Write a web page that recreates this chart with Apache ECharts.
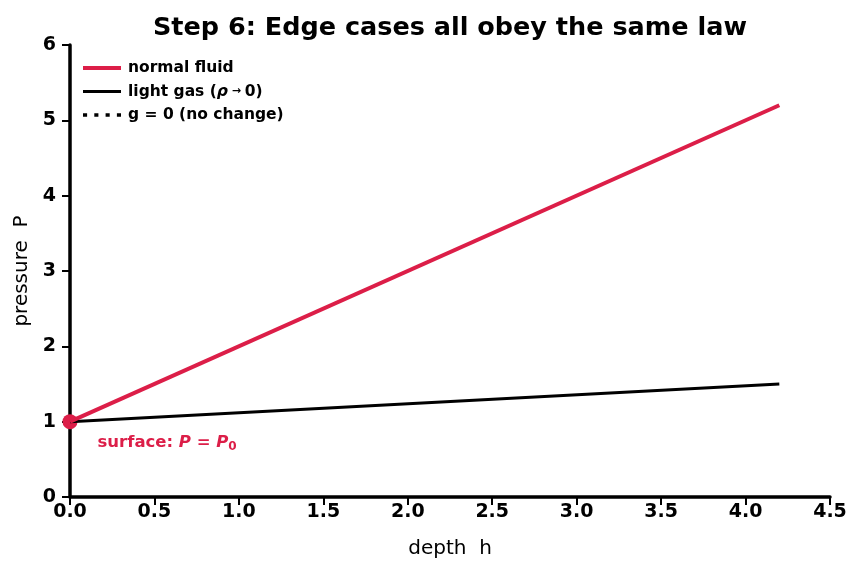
<!DOCTYPE html>
<html>
<head>
<meta charset="utf-8">
<script src="https://cdn.jsdelivr.net/npm/echarts@6/dist/echarts.min.js"></script>
<style>
  html, body { margin: 0; padding: 0; background: #fff; }
  #chart { width: 862px; height: 573px; }
</style>
</head>
<body>
<div id="chart"></div>
<script>
// data
const depth = [0, 4.2];
const normalFluid = [1, 5.2];
const lightGas = [1, 1.5];
const gZero = [];          // drawn nowhere visible, only in the legend
const surface = [[0, 1]];

const RED = '#dc1e48';
const FONT = 'DejaVu Sans';

const pairs = (ys) => depth.map((x, i) => [x, ys[i]]);

const chart = echarts.init(document.getElementById('chart'), null, { renderer: 'canvas' });

chart.setOption({
  animation: false,
  textStyle: { fontFamily: FONT },
  title: {
    text: 'Step 6: Edge cases all obey the same law',
    left: 445, top: 10, textAlign: 'center',
    textStyle: { fontFamily: FONT, fontSize: 25.5, fontWeight: 'bold', color: '#000' }
  },
  grid: { left: 70, right: 32, top: 45, bottom: 76 },
  legend: {
    orient: 'vertical', left: 78, top: 55,
    itemWidth: 38, itemHeight: 16, itemGap: 7.5,
    data: [
      { name: 'normal fluid', icon: 'path://M0,0 H38 V4 H0 Z' },
      { name: 'light gas', icon: 'path://M0,0 H38 V3 H0 Z' },
      { name: 'g = 0', icon: 'path://M0,0h4v3.5h-4z M11,0h4v3.5h-4z M22,0h4v3.5h-4z M33,0h4v3.5h-4z' }
    ],
    formatter: (n) => {
      if (n === 'light gas') return 'light gas ({i|ρ}{a| → }0)';
      if (n === 'g = 0') return 'g = 0 (no change)';
      return n;
    },
    textStyle: {
      fontFamily: FONT, fontSize: 15.5, fontWeight: 'bold', color: '#000', padding: [0, 0, 0, 2],
      rich: {
        i: { fontFamily: FONT, fontSize: 15.5, fontWeight: 'bold', fontStyle: 'italic' },
        a: { fontFamily: FONT, fontSize: 11, fontWeight: 'bold' }
      }
    }
  },
  xAxis: {
    type: 'value', min: 0, max: 4.5, interval: 0.5,
    name: 'depth  h', nameLocation: 'middle', nameGap: 42,
    nameTextStyle: { fontFamily: FONT, fontSize: 20, color: '#000' },
    axisLine: { onZero: false, lineStyle: { color: '#000', width: 3.5 } },
    axisTick: { length: 8, lineStyle: { color: '#000', width: 2 } },
    axisLabel: {
      fontFamily: FONT, fontSize: 19, fontWeight: 'bold', color: '#000', margin: 6,
      formatter: (v) => v.toFixed(1)
    },
    splitLine: { show: false }
  },
  yAxis: {
    type: 'value', min: 0, max: 6, interval: 1,
    name: 'pressure  P', nameLocation: 'middle', nameGap: 37,
    nameTextStyle: { fontFamily: FONT, fontSize: 20, color: '#000' },
    axisLine: { show: true, onZero: false, lineStyle: { color: '#000', width: 3.5 } },
    axisTick: { show: true, length: 8, lineStyle: { color: '#000', width: 2 } },
    axisLabel: { fontFamily: FONT, fontSize: 19, fontWeight: 'bold', color: '#000', margin: 14 },
    splitLine: { show: false }
  },
  series: [
    {
      name: 'normal fluid', type: 'line', data: pairs(normalFluid),
      symbol: 'none', lineStyle: { color: RED, width: 4 }, itemStyle: { color: RED },
      z: 3
    },
    {
      name: 'light gas', type: 'line', data: pairs(lightGas),
      symbol: 'none', lineStyle: { color: '#000', width: 3 }, itemStyle: { color: '#000' },
      z: 2
    },
    {
      name: 'g = 0', type: 'line', data: gZero,
      symbol: 'none', lineStyle: { color: '#000', width: 3, type: [3, 5] }, itemStyle: { color: '#000' }
    },
    {
      name: 'surface', type: 'scatter', data: surface,
      symbolSize: 15, itemStyle: { color: RED, opacity: 1 }, z: 1, clip: false,
      label: {
        show: true, position: 'right', distance: 20, offset: [0, 21],
        formatter: '{a|surface: }{i|P}{a| = }{i|P}{s|0}',
        rich: {
          a: { fontFamily: FONT, fontSize: 16.5, fontWeight: 'bold', color: RED },
          i: { fontFamily: FONT, fontSize: 16.5, fontWeight: 'bold', fontStyle: 'italic', color: RED },
          s: { fontFamily: FONT, fontSize: 12, fontWeight: 'bold', color: RED, padding: [9, 0, 0, 0] }
        }
      }
    }
  ]
});
</script>
</body>
</html>
